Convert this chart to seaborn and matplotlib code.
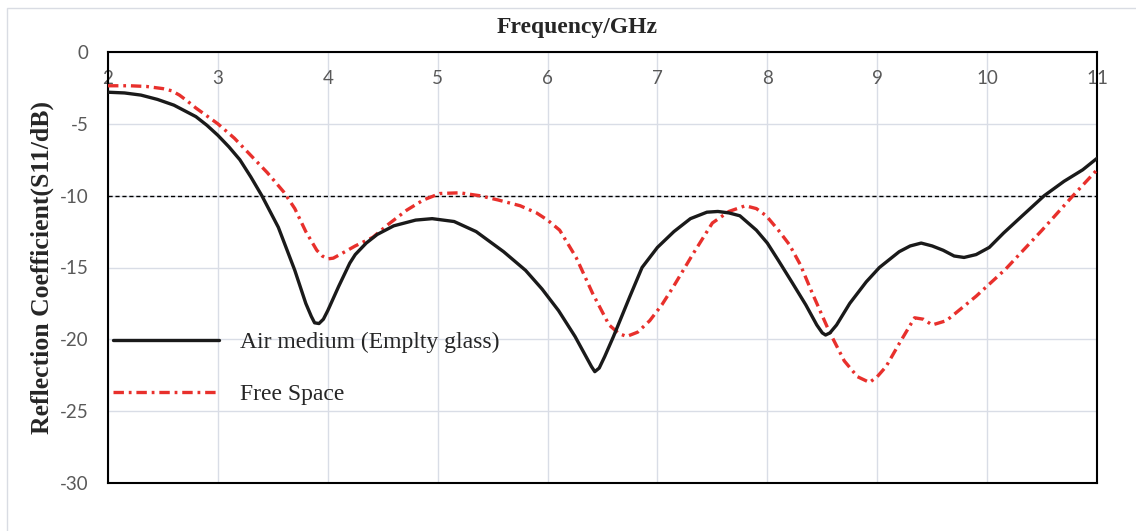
import matplotlib
matplotlib.use("Agg")
import matplotlib.pyplot as plt
import seaborn as sns
import pandas as pd
from matplotlib.patches import Rectangle

# values
freq_air = [2.0, 2.15, 2.3, 2.45, 2.6, 2.7, 2.8, 2.9, 3.0, 3.1, 3.2, 3.3, 3.4, 3.55,
            3.7, 3.8, 3.85, 3.88, 3.92, 3.96, 4.0, 4.1, 4.2, 4.25, 4.35, 4.45, 4.6,
            4.8, 4.95, 5.15, 5.35, 5.6, 5.8, 5.95, 6.1, 6.25, 6.35, 6.4, 6.43, 6.47,
            6.52, 6.6, 6.75, 6.86, 7.0, 7.15, 7.3, 7.45, 7.55, 7.65, 7.75, 7.9, 8.0,
            8.1, 8.23, 8.35, 8.45, 8.5, 8.53, 8.57, 8.63, 8.75, 8.9, 9.02, 9.2, 9.3,
            9.4, 9.5, 9.6, 9.7, 9.79, 9.9, 10.02, 10.15, 10.32, 10.52, 10.7, 10.87, 11.0]
s11_air = [-2.8, -2.85, -3.0, -3.3, -3.7, -4.1, -4.5, -5.1, -5.8, -6.6, -7.5, -8.7,
           -10.0, -12.2, -15.2, -17.5, -18.4, -18.85, -18.9, -18.6, -18.0, -16.3,
           -14.7, -14.1, -13.3, -12.7, -12.1, -11.7, -11.6, -11.8, -12.5, -13.9, -15.2,
           -16.5, -18.0, -19.8, -21.2, -21.9, -22.25, -22.0, -21.2, -19.8, -17.0, -15.0,
           -13.6, -12.5, -11.6, -11.15, -11.1, -11.2, -11.4, -12.4, -13.3, -14.5, -16.1,
           -17.6, -19.0, -19.55, -19.7, -19.55, -19.0, -17.5, -16.0, -15.0, -13.9, -13.5,
           -13.3, -13.5, -13.8, -14.2, -14.3, -14.1, -13.6, -12.6, -11.4, -10.0, -9.0,
           -8.2, -7.4]

freq_free = [2.0, 2.2, 2.35, 2.5, 2.58, 2.65, 2.72, 2.8, 3.0, 3.15, 3.3, 3.45, 3.6, 3.7,
             3.8, 3.9, 3.95, 4.0, 4.05, 4.11, 4.25, 4.41, 4.55, 4.72, 4.87, 5.02, 5.2,
             5.38, 5.55, 5.75, 5.9, 6.0, 6.11, 6.26, 6.41, 6.56, 6.65, 6.72, 6.82, 6.93,
             7.04, 7.14, 7.32, 7.5, 7.65, 7.8, 7.9, 7.99, 8.1, 8.2, 8.3, 8.41, 8.56, 8.7,
             8.82, 8.93, 9.0, 9.08, 9.2, 9.34, 9.42, 9.5, 9.63, 9.9, 10.17, 10.5, 10.77, 11.0]
s11_free = [-2.35, -2.35, -2.4, -2.55, -2.7, -3.0, -3.4, -3.9, -5.0, -6.0, -7.2, -8.4,
            -9.75, -10.9, -12.5, -13.8, -14.2, -14.4, -14.35, -14.1, -13.5, -12.9, -12.0,
            -11.0, -10.3, -9.85, -9.8, -10.0, -10.3, -10.7, -11.2, -11.7, -12.4, -14.3,
            -16.8, -19.0, -19.6, -19.8, -19.5, -18.7, -17.6, -16.4, -14.1, -11.9, -11.1,
            -10.7, -10.9, -11.4, -12.4, -13.4, -14.8, -16.8, -19.4, -21.5, -22.6, -23.0,
            -22.6, -21.9, -20.3, -18.5, -18.6, -19.0, -18.7, -17.0, -15.1, -12.4, -10.1,
            -8.2]

x_ticks = [2, 3, 4, 5, 6, 7, 8, 9, 10, 11]
y_ticks = [0, -5, -10, -15, -20, -25, -30]
threshold = -10

air = pd.DataFrame({"freq": freq_air, "s11": s11_air})
free = pd.DataFrame({"freq": freq_free, "s11": s11_free})

sns.set_theme(style="white")
plt.rcParams["lines.scale_dashes"] = False
plt.rcParams["lines.solid_joinstyle"] = "round"
plt.rcParams["lines.dash_joinstyle"] = "round"
plt.rcParams["font.family"] = ["Liberation Serif", "DejaVu Serif"]

fig = plt.figure(figsize=(11.36, 5.31), dpi=100)
ax = fig.add_axes([108 / 1136, 1 - 483 / 531, 989 / 1136, 431 / 531])

ax.grid(True, color="#d9dde6", lw=1)
ax.set_axisbelow(True)
ax.axhline(threshold, color="black", lw=1, ls=(0, (3, 2)), zorder=2)

sns.lineplot(data=air, x="freq", y="s11", ax=ax, color="#1a1a1a", lw=2.4,
             label="Air medium (Emplty glass)", zorder=4)
sns.lineplot(data=free, x="freq", y="s11", ax=ax, color="#e8302c", lw=2.4,
             linestyle=(0, (7.5, 3.5, 2, 3.5)), label="Free Space", zorder=3)

ax.set_xlim(2, 11)
ax.set_ylim(-30, 0)
ax.set_xticks(x_ticks)
ax.set_yticks(y_ticks)
ax.set_xlabel("")
ax.set_ylabel("")

tick_font = {"family": "Lato", "size": 13.5, "color": "#595959"}
ax.set_xticklabels([str(t) for t in x_ticks], fontdict=tick_font)
ax.set_yticklabels([str(t) for t in y_ticks], fontdict=tick_font)
ax.tick_params(axis="x", top=True, labeltop=True, bottom=False, labelbottom=False,
               length=0, pad=-25.5)
ax.tick_params(axis="y", length=0, pad=14)

for sp in ax.spines.values():
    sp.set_visible(True)
    sp.set_color("black")
    sp.set_linewidth(1.5)

leg = ax.legend(loc="upper left", bbox_to_anchor=(0.005, 0.352), frameon=False,
                fontsize=17, handlelength=4.5, handletextpad=0.89,
                labelspacing=1.3, borderpad=0, borderaxespad=0)

fig.text(577 / 1136, 1 - 28 / 531, "Frequency/GHz", ha="center", va="center",
         fontsize=17, fontweight="bold")
fig.text(42 / 1136, 1 - 267 / 531, "Reflection Coefficient(S11/dB)", ha="center",
         va="center", rotation=90, fontsize=18.5, fontweight="bold")

fig.add_artist(Rectangle((7 / 1136, -0.1), 1.2, 1.1 - 8 / 531, transform=fig.transFigure,
                         fill=False, edgecolor="#d9dce3", lw=1))

fig.savefig("out.png", dpi=100)
